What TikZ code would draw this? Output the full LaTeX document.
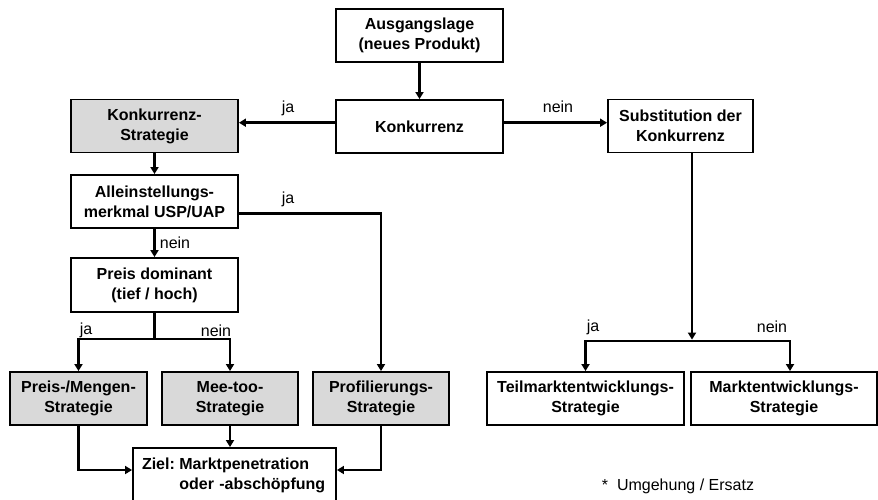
\documentclass[tikz,border=0pt]{standalone}
\usepackage{fontspec}
\setmainfont{Liberation Sans}
\usetikzlibrary{arrows.meta,calc}
\begin{document}
\begin{tikzpicture}[x=1pt,y=-1pt,
  box/.style={draw, line width=1.9pt, align=center, inner sep=0pt,
    font=\bfseries\fontsize{16}{20}\selectfont, minimum height=53pt},
  gbox/.style={box, fill=gray!30},
  conn/.style={line width=2.8pt, -{Triangle[length=7pt,width=8pt]}},
  plain/.style={line width=2.8pt},
  lbl/.style={font=\fontsize{16}{20}\selectfont, inner sep=0pt}]
\clip (0,0) rectangle (878,499);
\fill[white] (0,0) rectangle (878,499);
% boxes
\node[box, minimum width=167pt] (aus) at (419.5,35.5) {Ausgangslage\\(neues Produkt)};
\node[box, minimum width=167pt] (konk) at (419.5,126.5) {Konkurrenz};
\node[gbox, minimum width=167pt] (ks) at (154.5,126) {Konkurrenz-\\Strategie};
\node[box, minimum width=145pt] (sub) at (680.5,126) {Substitution der\\Konkurrenz};
\node[box, minimum width=167pt] (allein) at (154.5,201.5) {Alleinstellungs-\\merkmal USP/UAP};
\node[box, minimum width=167pt, minimum height=54pt] (preis) at (154.5,285) {Preis dominant\\(tief / hoch)};
\node[gbox, minimum width=137pt] (pm) at (78.5,398.5) {Preis-/Mengen-\\Strategie};
\node[gbox, minimum width=136pt] (mt) at (230,398.5) {Mee-too-\\Strategie};
\node[gbox, minimum width=136pt] (prof) at (381,398.5) {Profilierungs-\\Strategie};
\node[box, minimum width=197pt] (teil) at (585.5,398.5) {Teilmarktentwicklungs-\\Strategie};
\node[box, minimum width=186pt] (markt) at (784,398.5) {Marktentwicklungs-\\Strategie};
\node[box, minimum width=203pt, minimum height=54pt, text width=185pt, align=left] (ziel) at (234.5,475)
  {\begin{tabular}{@{}l@{\hspace{4.5pt}}l@{}}Ziel:&Marktpenetration\\&oder -abschöpfung\end{tabular}};
% junctions
\coordinate (jL) at (154.5,339);
\coordinate (jR) at (692,341);
% connectors
\draw[conn] (aus.south) -- (konk.north);
\draw[conn] ([yshift=3.8pt]konk.west) -- ([yshift=3.8pt]konk.west -| ks.east);
\draw[conn] ([yshift=3.8pt]konk.east) -- ([yshift=3.8pt]konk.east -| sub.west);
\draw[conn] (ks.south) -- (allein.north);
\draw[conn] ([yshift=-11.8pt]allein.east) -| (prof.north);
\draw[conn] (allein.south) -- (preis.north);
\draw[plain] (preis.south) -- (jL);
\draw[conn] (jL) -| (pm.north);
\draw[conn] (jL) -| (mt.north);
\draw[conn] (pm.south) |- ([yshift=5pt]ziel.west);
\draw[conn] (prof.south) |- ([yshift=5pt]ziel.east);
\draw[conn] (mt.south) -- (mt.south |- ziel.north);
\draw[conn] (sub.south -| jR) -- ([yshift=1.4pt]jR);
\draw[conn] (jR) -| (teil.north);
\draw[conn] (jR) -| ([xshift=6pt]markt.north);
% labels
\node[lbl] (l1) at (288,108) {ja};
\node[lbl] (l2) at (558,107) {nein};
\node[lbl] (l3) at (288,199) {ja};
\node[lbl] (l4) at (175,243) {nein};
\node[lbl] (l5) at (86,330) {ja};
\node[lbl] (l6) at (216,331) {nein};
\node[lbl] (l7) at (593,327) {ja};
\node[lbl] (l8) at (772,327) {nein};
\node[lbl] (fn) at (678,486) {*\ \ Umgehung / Ersatz};
\end{tikzpicture}
\end{document}
